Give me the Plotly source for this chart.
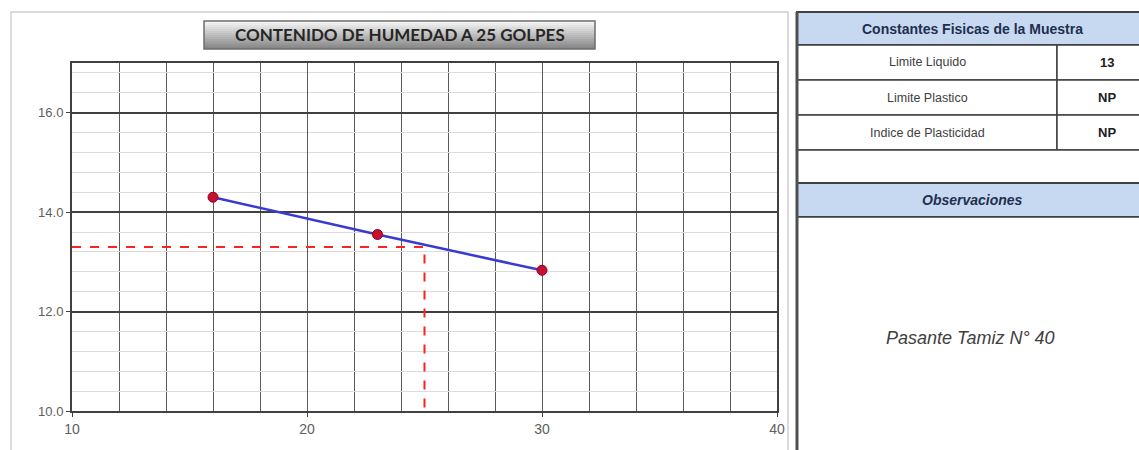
import plotly.graph_objects as go

# ---------------- datos ----------------
golpes = [16, 23, 30]
humedad = [14.3, 13.55, 12.83]

# lectura a 25 golpes (línea roja punteada)
lectura_x = [10, 25, 25]
lectura_y = [13.3, 13.3, 10.0]

titulo = "CONTENIDO DE HUMEDAD A 25 GOLPES"
constantes = ["Limite Liquido", "Limite Plastico", "Indice de Plasticidad"]
valores = ["13", "NP", "NP"]
observacion = "Pasante Tamiz N° 40"

W, H = 1139, 450


def px(x):
    return x / W


def py(y):
    return 1 - y / H


fig = go.Figure()

fig.add_trace(go.Scatter(
    x=lectura_x, y=lectura_y, mode="lines",
    line=dict(color="#ff2020", width=2, dash="dash"),
    hoverinfo="skip", showlegend=False,
))
fig.add_trace(go.Scatter(
    x=golpes, y=humedad, mode="lines",
    line=dict(color="#3a3ad0", width=2.5),
    showlegend=False,
))
fig.add_trace(go.Scatter(
    x=golpes, y=humedad, mode="markers",
    marker=dict(color="#c8102e", size=10, line=dict(color="#8b0020", width=1)),
    showlegend=False,
))

shapes = []

# marco del gráfico
shapes.append(dict(type="rect", xref="paper", yref="paper",
                   x0=px(11), x1=px(788), y0=py(470), y1=py(12),
                   line=dict(color="#d0d0d0", width=1.5), layer="below"))

# caja del título (degradado gris)
n = 14
y_top, y_bot = 21, 49
for i in range(n):
    t = i / (n - 1)
    g = int(245 - t * 110)
    shapes.append(dict(type="rect", xref="paper", yref="paper",
                       x0=px(204), x1=px(595),
                       y0=py(y_top + (i + 1) * (y_bot - y_top) / n),
                       y1=py(y_top + i * (y_bot - y_top) / n),
                       fillcolor=f"rgb({g},{g},{g})", line=dict(width=0)))
shapes.append(dict(type="rect", xref="paper", yref="paper",
                   x0=px(204), x1=px(595), y0=py(y_bot), y1=py(y_top),
                   line=dict(color="#6e6e6e", width=1.5)))

# tabla de constantes
azul = "#c6d9f1"
borde = "#404040"
tx0, tx1, tcol = 797, 1150, 1057
shapes.append(dict(type="rect", xref="paper", yref="paper",
                   x0=px(tx0), x1=px(tx1), y0=py(45), y1=py(12),
                   fillcolor=azul, line=dict(color=borde, width=2)))
filas = [(45, 80), (80, 115), (115, 150)]
for (a, b) in filas:
    shapes.append(dict(type="rect", xref="paper", yref="paper",
                       x0=px(tx0), x1=px(tcol), y0=py(b), y1=py(a),
                       fillcolor="white", line=dict(color=borde, width=1.5)))
    shapes.append(dict(type="rect", xref="paper", yref="paper",
                       x0=px(tcol), x1=px(tx1), y0=py(b), y1=py(a),
                       fillcolor="white", line=dict(color=borde, width=1.5)))
shapes.append(dict(type="rect", xref="paper", yref="paper",
                   x0=px(tx0), x1=px(tx1), y0=py(183), y1=py(150),
                   fillcolor="white", line=dict(color=borde, width=1.5)))
shapes.append(dict(type="rect", xref="paper", yref="paper",
                   x0=px(tx0), x1=px(tx1), y0=py(217), y1=py(183),
                   fillcolor=azul, line=dict(color=borde, width=2)))
shapes.append(dict(type="rect", xref="paper", yref="paper",
                   x0=px(tx0), x1=px(tx1), y0=py(480), y1=py(217),
                   fillcolor="white", line=dict(color=borde, width=1.5)))
shapes.append(dict(type="line", xref="paper", yref="paper",
                   x0=px(tx0), x1=px(tx0), y0=py(480), y1=py(12),
                   line=dict(color="#505050", width=3)))


def nota(texto, x, y, size, color, family="Liberation Sans"):
    return dict(text=texto, x=px(x), y=py(y), xref="paper", yref="paper",
                xanchor="center", yanchor="middle", showarrow=False,
                font=dict(family=family, size=size, color=color))


annotations = [
    nota(f"<b>{titulo}</b>", 400, 35, 17, "#262626", family="Lato"),
    nota("<b>Constantes Fisicas de la Muestra</b>", 972, 29, 14, "#1f2f4f"),
    nota("<b><i>Observaciones</i></b>", 972, 200, 14, "#1f2f4f"),
    nota(f"<i>{observacion}</i>", 970, 338, 18, "#404040"),
]
for (a, b), nombre, val in zip(filas, constantes, valores):
    yc = (a + b) / 2
    annotations.append(nota(nombre, (tx0 + tcol) / 2, yc, 12.5, "#404040"))
    annotations.append(nota(f"<b>{val}</b>", 1107, yc, 13, "#202020"))

fig.update_layout(
    width=W, height=H, autosize=False,
    margin=dict(l=0, r=0, t=0, b=0, pad=0),
    paper_bgcolor="white", plot_bgcolor="white",
    shapes=shapes, annotations=annotations,
    xaxis=dict(
        domain=[px(72), px(777)], range=[10, 40], dtick=10, tick0=10,
        showgrid=True, gridcolor="#5a5a5a", gridwidth=1,
        minor=dict(dtick=2, tick0=10, showgrid=True, gridcolor="#5a5a5a", gridwidth=1),
        showline=True, linecolor="#404040", linewidth=2, mirror=True,
        ticks="outside", ticklen=4, tickcolor="#404040",
        tickfont=dict(family="Liberation Sans", size=14, color="#606060"),
        zeroline=False, fixedrange=True, automargin=False,
    ),
    yaxis=dict(
        domain=[py(411), py(63)], range=[10, 17], dtick=2, tick0=10,
        tickformat=".1f",
        showgrid=True, gridcolor="#404040", gridwidth=2,
        minor=dict(dtick=0.4, tick0=10, showgrid=True, gridcolor="#dcdcdc", gridwidth=1),
        showline=True, linecolor="#404040", linewidth=2, mirror=True,
        ticks="outside", ticklen=4, tickcolor="#404040",
        tickfont=dict(family="Liberation Sans", size=13, color="#606060"),
        zeroline=False, fixedrange=True, automargin=False,
    ),
)

fig.write_html(
    "out.html",
    config={"displayModeBar": False},
    post_script="document.body.style.margin='0';document.body.style.overflow='hidden';",
)
